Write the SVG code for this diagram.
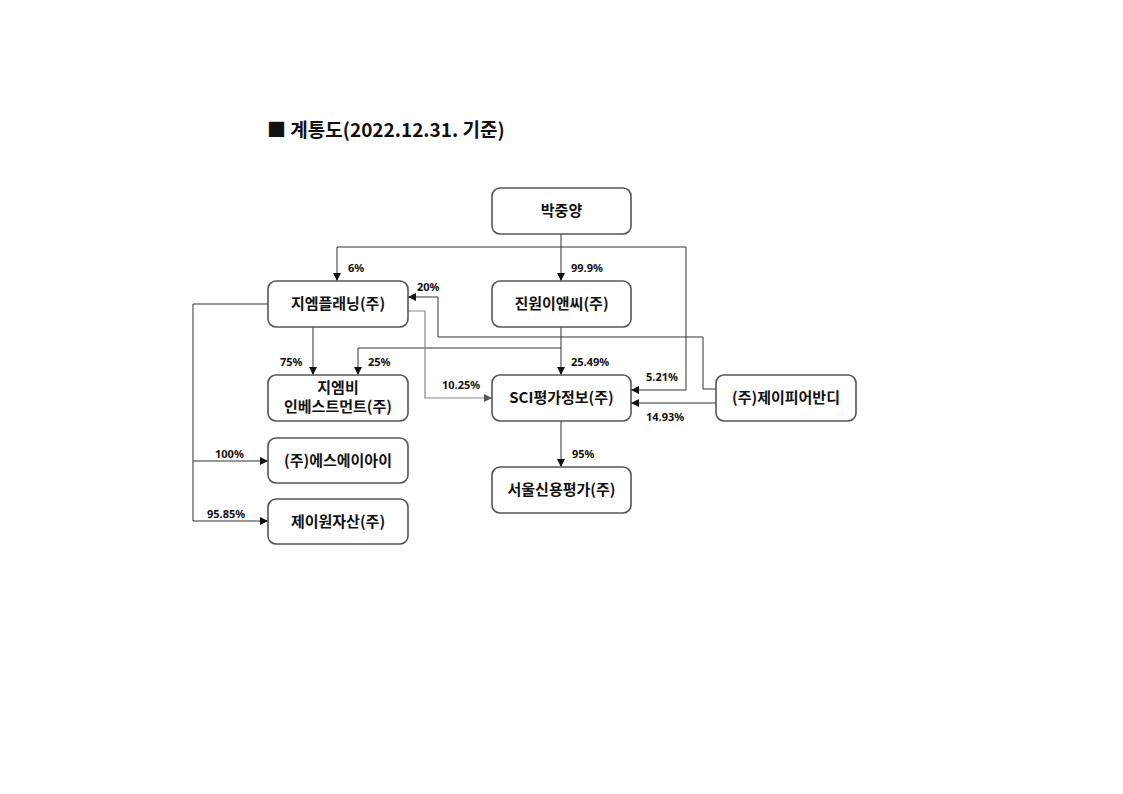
<svg xmlns="http://www.w3.org/2000/svg" width="1123" height="794" viewBox="0 0 1123 794">
<defs>
<style>
.box{fill:#fff;stroke:#555;stroke-width:1.6}
.bt{font-family:"Noto Sans CJK KR","Noto Sans",sans-serif;font-size:15px;font-weight:bold;fill:#111;text-anchor:middle}
.lb{font-family:"Noto Sans","Noto Sans CJK KR",sans-serif;font-size:11px;font-weight:bold;fill:#111}
.ln{fill:none;stroke:#333;stroke-width:1}
.lg{fill:none;stroke:#888;stroke-width:1.2}
</style>
<marker id="ah" viewBox="0 0 10 10" refX="10" refY="5" markerWidth="8" markerHeight="8" markerUnits="userSpaceOnUse" orient="auto"><path d="M0,0L10,5L0,10z" fill="#111"/></marker>
<marker id="ahg" viewBox="0 0 10 10" refX="10" refY="5" markerWidth="8" markerHeight="8" markerUnits="userSpaceOnUse" orient="auto"><path d="M0,0L10,5L0,10z" fill="#555"/></marker>
</defs>
<rect width="1123" height="794" fill="#fff"/>
<text x="267" y="137" font-family="'Noto Sans CJK KR','Noto Sans',sans-serif" font-size="19" font-weight="bold" fill="#111">■ 계통도(2022.12.31. 기준)</text>

<g id="connectors">
<path class="ln" d="M561,234V281" marker-end="url(#ah)"/>
<path class="ln" d="M561,247H337V281" marker-end="url(#ah)"/>
<path class="ln" d="M561,247H686V390H631" marker-end="url(#ah)"/>
<path class="ln" d="M716,403H631" marker-end="url(#ah)"/>
<path class="ln" d="M716,389H703V337H438V297H408" marker-end="url(#ah)"/>
<path class="ln" d="M561,327V375" marker-end="url(#ah)"/>
<path class="ln" d="M561,348H358V375" marker-end="url(#ah)"/>
<path class="ln" d="M313,327V375" marker-end="url(#ah)"/>
<path class="lg" d="M408,311H425V398H492" marker-end="url(#ahg)"/>
<path class="ln" d="M268,304H193V521H268" marker-end="url(#ah)"/>
<path class="ln" d="M193,461H268" marker-end="url(#ah)"/>
<path class="ln" d="M561,421V467" marker-end="url(#ah)"/>
</g>

<g id="labels">
<text class="lb" x="571" y="272">99.9%</text>
<text class="lb" x="348" y="272">6%</text>
<text class="lb" x="417" y="291">20%</text>
<text class="lb" x="571" y="366">25.49%</text>
<text class="lb" x="280" y="366">75%</text>
<text class="lb" x="368" y="366">25%</text>
<text class="lb" x="442" y="389">10.25%</text>
<text class="lb" x="646" y="381">5.21%</text>
<text class="lb" x="646" y="421">14.93%</text>
<text class="lb" x="215" y="458">100%</text>
<text class="lb" x="207" y="518">95.85%</text>
<text class="lb" x="572" y="458">95%</text>
</g>

<g id="n-park"><rect class="box" x="492" y="188" width="139" height="46" rx="8"/><text class="bt" x="561.5" y="216">박중양</text></g>
<g id="n-jinwon"><rect class="box" x="492" y="281" width="139" height="46" rx="8"/><text class="bt" x="561.5" y="309">진원이앤씨(주)</text></g>
<g id="n-gmplanning"><rect class="box" x="268" y="281" width="140" height="46" rx="8"/><text class="bt" x="338" y="309">지엠플래닝(주)</text></g>
<g id="n-gmb"><rect class="box" x="268" y="375" width="140" height="46" rx="8"/><text class="bt" x="338" y="393">지엠비</text><text class="bt" x="338" y="412">인베스트먼트(주)</text></g>
<g id="n-sci"><rect class="box" x="492" y="375" width="139" height="46" rx="8"/><text class="bt" x="561.5" y="403">SCI평가정보(주)</text></g>
<g id="n-jpavandi"><rect class="box" x="716" y="375" width="140" height="46" rx="8"/><text class="bt" x="786" y="403">(주)제이피어반디</text></g>
<g id="n-sai"><rect class="box" x="268" y="438" width="140" height="45" rx="8"/><text class="bt" x="338" y="466">(주)에스에이아이</text></g>
<g id="n-jone"><rect class="box" x="268" y="499" width="140" height="45" rx="8"/><text class="bt" x="338" y="527">제이원자산(주)</text></g>
<g id="n-seoul"><rect class="box" x="492" y="467" width="139" height="46" rx="8"/><text class="bt" x="561.5" y="495">서울신용평가(주)</text></g>
</svg>
